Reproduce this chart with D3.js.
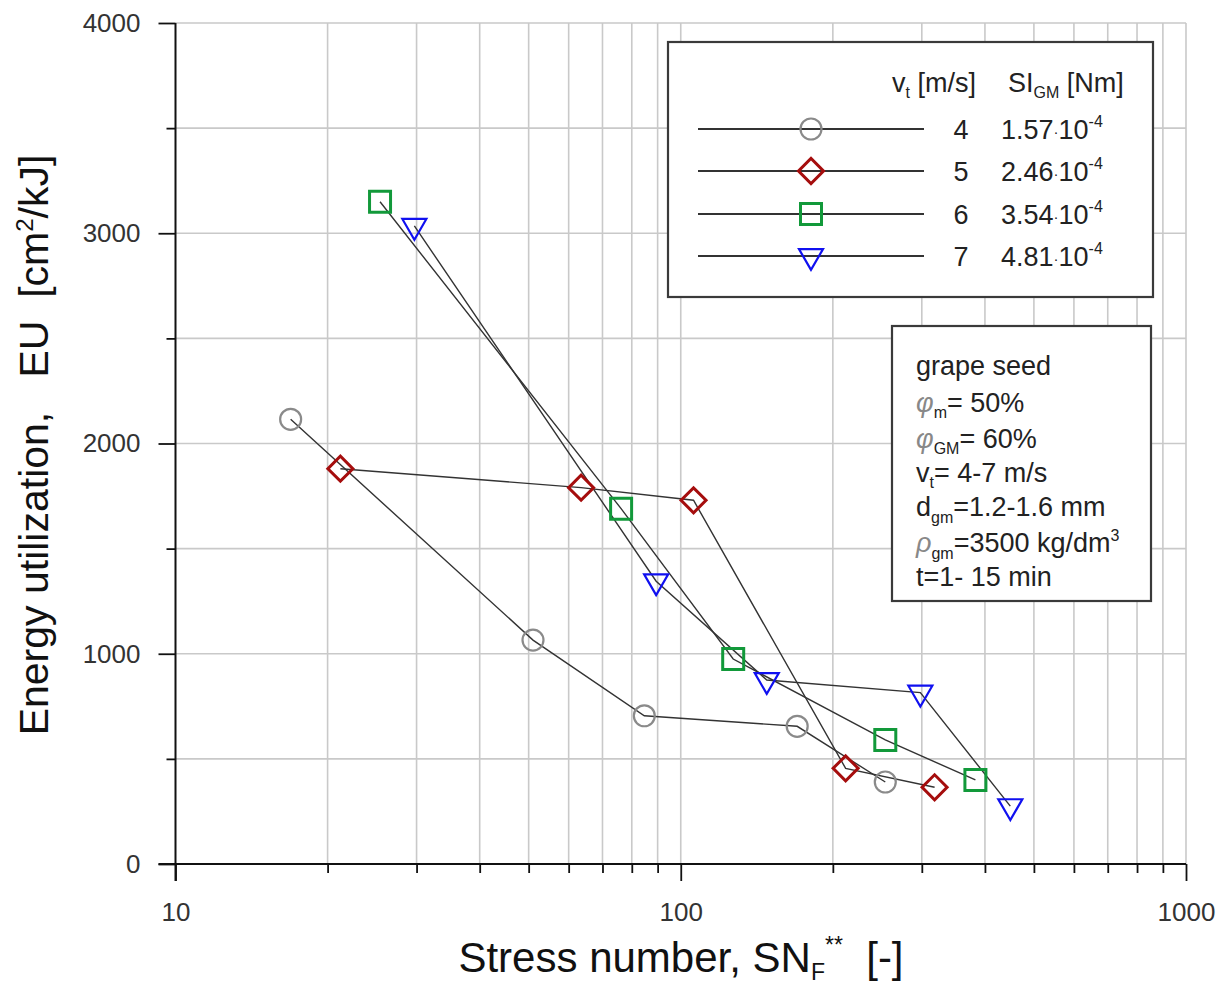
<!DOCTYPE html>
<html>
<head>
    <meta charset="utf-8">
    <script type="text/javascript" src="https://d3js.org/d3.v7.min.js"></script>
    <style>
        body { margin: 0; background: white; }
        text { font-family: "Liberation Sans", Arial, sans-serif; }
    </style>
</head>
<body>
    <div id="chart"></div>
    <script type="text/javascript">
        // data
        const speeds = ["4", "5", "6", "7"];
        const siValues = ["1.57", "2.46", "3.54", "4.81"];

        const snV4 = [16.9, 51.0, 84.7, 170, 254];
        const euV4 = [2115, 1065, 705, 655, 390];

        const snV5 = [21.2, 63.5, 106, 212, 318];
        const euV5 = [1880, 1790, 1730, 455, 365];

        const snV6 = [25.4, 76.2, 127, 254, 383];
        const euV6 = [3150, 1690, 975, 590, 400];

        const snV7 = [29.7, 89.4, 148, 298, 449];
        const euV7 = [3035, 1345, 875, 815, 275];

        const xTickLabels = [10, 100, 1000];
        const xMinorTicks = [20, 30, 40, 50, 60, 70, 80, 90, 200, 300, 400, 500, 600, 700, 800, 900];
        const yTickLabels = [0, 1000, 2000, 3000, 4000];
        const yMinorTicks = [500, 1500, 2500, 3500];

        const infoLines = ["grape seed", "phi_m", "phi_GM", "vt", "dgm", "rho", "t=1- 15 min"];

        // layout
        const width = 1228, height = 985;
        const xLeft = 175.5, xRight = 1186, yBottom = 864, yTop = 23;

        const x = d3.scaleLog().domain([10, 1000]).range([xLeft, xRight]);
        const y = d3.scaleLinear().domain([0, 4000]).range([yBottom, yTop]);

        const svg = d3.select("#chart")
            .append("svg")
            .attr("width", width)
            .attr("height", height)
            .style("background-color", "white");

        // grid
        const gridColor = "#c9c9c9";
        svg.selectAll("line.vgrid")
            .data(xMinorTicks.concat([100, 1000]))
            .enter()
            .append("line")
            .attr("class", "vgrid")
            .attr("x1", d => x(d)).attr("x2", d => x(d))
            .attr("y1", yTop).attr("y2", yBottom)
            .style("stroke", gridColor).style("stroke-width", 1.6);

        svg.selectAll("line.hgrid")
            .data(yMinorTicks.concat([1000, 2000, 3000, 4000]))
            .enter()
            .append("line")
            .attr("class", "hgrid")
            .attr("x1", xLeft).attr("x2", xRight)
            .attr("y1", d => y(d)).attr("y2", d => y(d))
            .style("stroke", gridColor).style("stroke-width", 1.6);

        // axes
        const xAxis = d3.axisBottom(x)
            .tickValues(xTickLabels)
            .tickFormat(d3.format("d"))
            .tickSize(17)
            .tickPadding(22);
        const xAxisG = svg.append("g")
            .attr("transform", `translate(0,${yBottom})`)
            .call(xAxis);
        xAxisG.select(".domain").remove();

        const xMinorAxis = d3.axisBottom(x)
            .tickValues(xMinorTicks)
            .tickFormat("")
            .tickSize(9);
        svg.append("g")
            .attr("transform", `translate(0,${yBottom})`)
            .call(xMinorAxis)
            .select(".domain").remove();

        const yAxis = d3.axisLeft(y)
            .tickValues(yTickLabels)
            .tickFormat(d3.format("d"))
            .tickSize(17)
            .tickPadding(18);
        const yAxisG = svg.append("g")
            .attr("transform", `translate(${xLeft},0)`)
            .call(yAxis);
        yAxisG.select(".domain").remove();

        const yMinorAxis = d3.axisLeft(y)
            .tickValues(yMinorTicks)
            .tickFormat("")
            .tickSize(9);
        svg.append("g")
            .attr("transform", `translate(${xLeft},0)`)
            .call(yMinorAxis)
            .select(".domain").remove();

        svg.selectAll(".tick line").style("stroke", "#111").style("stroke-width", 1.8);
        svg.selectAll(".tick text")
            .style("font-size", "26px")
            .style("fill", "#333")
            .style("font-family", "'Liberation Sans', Arial, sans-serif");

        svg.append("line")
            .attr("x1", xLeft - 17).attr("x2", xRight)
            .attr("y1", yBottom).attr("y2", yBottom)
            .style("stroke", "#111").style("stroke-width", 2);
        svg.append("line")
            .attr("x1", xLeft).attr("x2", xLeft)
            .attr("y1", yTop).attr("y2", yBottom + 17)
            .style("stroke", "#111").style("stroke-width", 2);

        // axis titles
        const xTitle = svg.append("text")
            .attr("x", 681).attr("y", 972)
            .attr("text-anchor", "middle")
            .style("font-size", "42px")
            .style("fill", "#111");
        xTitle.append("tspan").text("Stress number, SN");
        xTitle.append("tspan").attr("dy", 8).style("font-size", "23px").text("F");
        xTitle.append("tspan").attr("dy", -27).style("font-size", "23px").text("**");
        xTitle.append("tspan").attr("dy", 19).text("\u00a0\u00a0[-]");

        const yTitle = svg.append("text")
            .attr("transform", "translate(48,445) rotate(-90)")
            .attr("text-anchor", "middle")
            .style("font-size", "41px")
            .style("fill", "#111");
        yTitle.append("tspan").text("Energy utilization,\u00a0\u00a0\u00a0EU\u00a0\u00a0[cm");
        yTitle.append("tspan").attr("dy", -15).style("font-size", "24px").text("2");
        yTitle.append("tspan").attr("dy", 15).text("/kJ]");

        // series
        const seriesList = [
            { sn: snV4, eu: euV4, shape: d3.symbolCircle, size: 346, rot: 0, color: "#8a8a8a", sw: 2.2 },
            { sn: snV5, eu: euV5, shape: d3.symbolSquare, size: 313, rot: 45, color: "#a50d0d", sw: 3 },
            { sn: snV6, eu: euV6, shape: d3.symbolSquare, size: 441, rot: 0, color: "#12993a", sw: 3 },
            { sn: snV7, eu: euV7, shape: d3.symbolTriangle, size: 250, rot: 180, color: "#1010f0", sw: 2.2 }
        ];

        const line = d3.line().x(d => x(d[0])).y(d => y(d[1]));

        seriesList.forEach(s => {
            const pts = s.sn.map((v, i) => [v, s.eu[i]]);
            svg.append("path")
                .attr("d", line(pts))
                .style("fill", "none")
                .style("stroke", "#333")
                .style("stroke-width", 1.4);
        });

        seriesList.forEach(s => {
            const pts = s.sn.map((v, i) => [v, s.eu[i]]);
            svg.selectAll(null)
                .data(pts)
                .enter()
                .append("path")
                .attr("d", d3.symbol().type(s.shape).size(s.size))
                .attr("transform", d => `translate(${x(d[0])},${y(d[1])}) rotate(${s.rot})`)
                .style("fill", "none")
                .style("stroke", s.color)
                .style("stroke-width", s.sw);
        });

        // legend box
        const lg = svg.append("g");
        lg.append("rect")
            .attr("x", 668).attr("y", 42).attr("width", 485).attr("height", 255)
            .style("fill", "white").style("stroke", "#3a3a3a").style("stroke-width", 2.2);

        const h1 = lg.append("text").attr("x", 976).attr("y", 92).attr("text-anchor", "end")
            .style("font-size", "27px").style("fill", "#222");
        h1.append("tspan").text("v");
        h1.append("tspan").attr("dy", 6).style("font-size", "16px").text("t");
        h1.append("tspan").attr("dy", -6).text(" [m/s]");

        const h2 = lg.append("text").attr("x", 1008).attr("y", 92)
            .style("font-size", "27px").style("fill", "#222");
        h2.append("tspan").text("SI");
        h2.append("tspan").attr("dy", 6).style("font-size", "16px").text("GM");
        h2.append("tspan").attr("dy", -6).text(" [Nm]");

        const rowY = [129, 171, 214, 256];
        seriesList.forEach((s, i) => {
            lg.append("line")
                .attr("x1", 698).attr("x2", 924)
                .attr("y1", rowY[i]).attr("y2", rowY[i])
                .style("stroke", "#333").style("stroke-width", 1.8);
            lg.append("path")
                .attr("d", d3.symbol().type(s.shape).size(s.size))
                .attr("transform", `translate(811,${rowY[i]}) rotate(${s.rot})`)
                .style("fill", "none")
                .style("stroke", s.color)
                .style("stroke-width", s.sw);
            lg.append("text")
                .attr("x", 961).attr("y", rowY[i] + 10)
                .attr("text-anchor", "middle")
                .style("font-size", "27px").style("fill", "#222")
                .text(speeds[i]);
            const vt = lg.append("text")
                .attr("x", 1001).attr("y", rowY[i] + 10)
                .style("font-size", "27px").style("fill", "#222");
            vt.append("tspan").text(siValues[i]);
            vt.append("tspan").style("font-size", "15px").attr("dy", -2).text("\u00b7");
            vt.append("tspan").attr("dy", 2).text("10");
            vt.append("tspan").attr("dy", -12).style("font-size", "16px").text("-4");
        });

        // info box
        const ib = svg.append("g");
        ib.append("rect")
            .attr("x", 892).attr("y", 326).attr("width", 259).attr("height", 275)
            .style("fill", "white").style("stroke", "#3a3a3a").style("stroke-width", 2.2);

        const infoY = [375, 412, 448, 482, 516, 552, 586];
        const greek = { fill: "#888", style: "italic" };

        infoLines.forEach((key, i) => {
            const t = ib.append("text")
                .attr("x", 916).attr("y", infoY[i])
                .style("font-size", "27px").style("fill", "#222");
            if (key === "phi_m") {
                t.append("tspan").style("fill", greek.fill).style("font-style", greek.style).text("\u03c6");
                t.append("tspan").attr("dy", 6).style("font-size", "16px").text("m");
                t.append("tspan").attr("dy", -6).text("= 50%");
            } else if (key === "phi_GM") {
                t.append("tspan").style("fill", greek.fill).style("font-style", greek.style).text("\u03c6");
                t.append("tspan").attr("dy", 6).style("font-size", "16px").text("GM");
                t.append("tspan").attr("dy", -6).text("= 60%");
            } else if (key === "vt") {
                t.append("tspan").text("v");
                t.append("tspan").attr("dy", 6).style("font-size", "16px").text("t");
                t.append("tspan").attr("dy", -6).text("= 4-7 m/s");
            } else if (key === "dgm") {
                t.append("tspan").text("d");
                t.append("tspan").attr("dy", 7).style("font-size", "16px").text("gm");
                t.append("tspan").attr("dy", -7).text("=1.2-1.6 mm");
            } else if (key === "rho") {
                t.append("tspan").style("fill", greek.fill).style("font-style", greek.style).text("\u03c1");
                t.append("tspan").attr("dy", 7).style("font-size", "16px").text("gm");
                t.append("tspan").attr("dy", -7).text("=3500 kg/dm");
                t.append("tspan").attr("dy", -11).style("font-size", "16px").text("3");
            } else {
                t.text(key);
            }
        });
    </script>
</body>
</html>
